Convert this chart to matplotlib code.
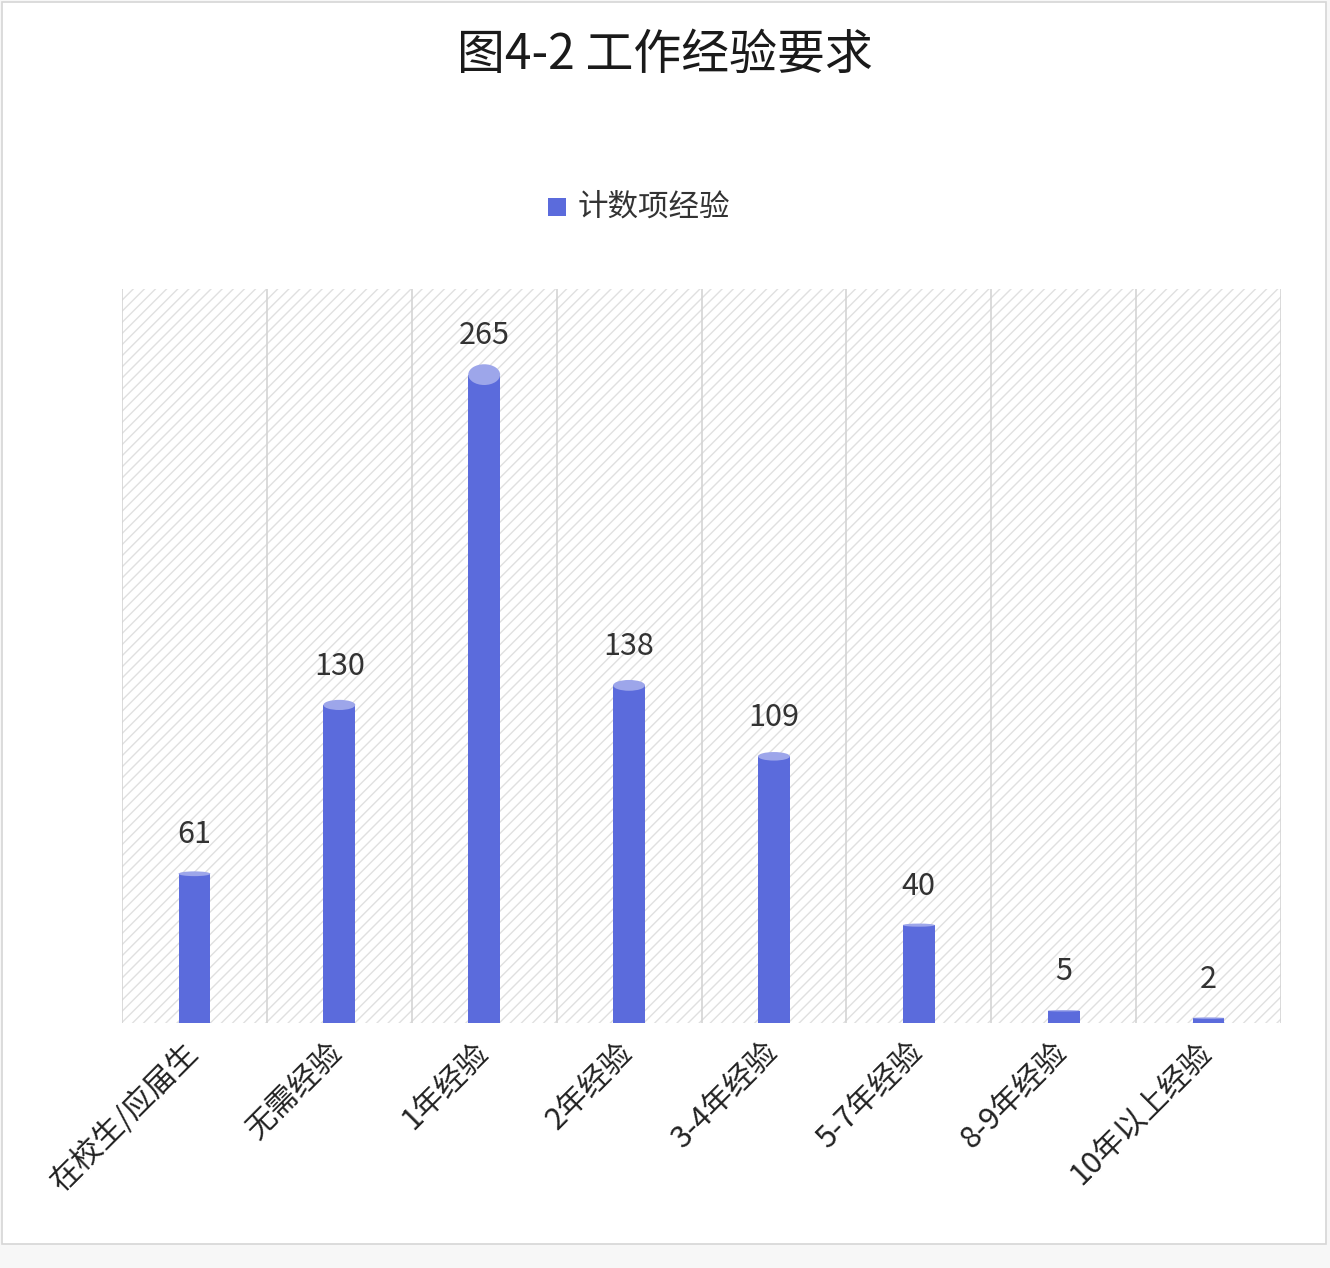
import matplotlib
matplotlib.use("Agg")
import matplotlib.pyplot as plt
from matplotlib.patches import Ellipse, Rectangle
import matplotlib.transforms as mtransforms
import numpy as np

plt.rcParams['font.family'] = ['Noto Sans CJK SC', 'DejaVu Sans']
plt.rcParams['hatch.linewidth'] = 1.0

categories = ['在校生/应届生', '无需经验', '1年经验', '2年经验', '3-4年经验', '5-7年经验', '8-9年经验', '10年以上经验']
values = [61, 130, 265, 138, 109, 40, 5, 2]
series_name = '计数项经验'
title = '图4-2 工作经验要求'

bar_color = '#5b6bdc'
top_color = '#9da6ea'

fig = plt.figure(figsize=(13.3, 12.68), dpi=100)
fig.patch.set_facecolor('#f7f7f7')
fig.patches.append(Rectangle((2/1330, 1-1244/1268), 1324/1330, 1242/1268,
                             transform=fig.transFigure, facecolor='white',
                             edgecolor='#d6d6d6', linewidth=1.2, zorder=-5))

ax = fig.add_axes([122/1330, 1-1023/1268, (1281-122)/1330, (1023-289)/1268])
ax.set_facecolor('none')
n = len(categories)
ax.set_xlim(-0.5, n-0.5)
ax.set_ylim(0, 300)

# hatched background
ax.add_patch(Rectangle((-0.5, 0), n, 300, facecolor='white', edgecolor='#e0e0e0',
                       linewidth=0, hatch='///', zorder=0))
for i in range(n+1):
    ax.axvline(i-0.5, color='#d4d4d4', linewidth=1.2, zorder=1)

x = np.arange(n)
w = 0.22
bars = ax.bar(x, values, width=w, color=bar_color, zorder=3)
for xi, v in zip(x, values):
    eh = max(v*0.032, 0.6)
    ax.add_patch(Ellipse((xi, 0.0), w, 2.0, facecolor=bar_color, edgecolor='none', zorder=3))
    ax.add_patch(Ellipse((xi, v), w, eh, facecolor=top_color, edgecolor='none', zorder=4))
    ax.annotate(str(v), (xi, v), xytext=(0, 28), textcoords='offset points',
                ha='center', va='center', fontsize=22, color='#333333', zorder=5,
                fontweight='light')

for s in ax.spines.values():
    s.set_visible(False)
ax.set_yticks([])
ax.set_xticks(x)
ax.set_xticklabels(categories, rotation=45, ha='right', va='top',
                   rotation_mode='anchor', fontsize=22, color='#222222',
                   fontweight='light')
ax.tick_params(axis='x', length=0, pad=10)
offset = mtransforms.ScaledTranslation(-12/100, 0, fig.dpi_scale_trans)
for lbl in ax.get_xticklabels():
    lbl.set_transform(lbl.get_transform() + offset)

fig.text(0.5, 1-55/1268, title, ha='center', va='center', fontsize=34.5, color='#1a1a1a',
         fontweight='light')

# legend
fig.patches.append(Rectangle((548/1330, 1-216/1268), 18/1330, 18/1268,
                             transform=fig.transFigure, facecolor=bar_color,
                             edgecolor='none', zorder=2))
fig.text(578/1330, 1-207/1268, series_name, ha='left', va='center', fontsize=22, color='#333333',
         fontweight='light')

fig.savefig('out.png', dpi=100, facecolor=fig.get_facecolor())
